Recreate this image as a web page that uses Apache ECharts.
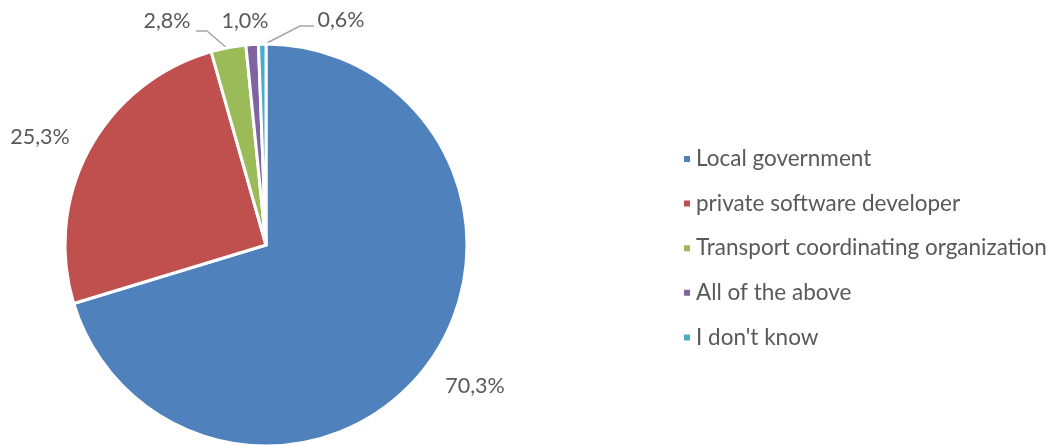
<!DOCTYPE html>
<html>
<head>
<meta charset="utf-8">
<script src="https://cdn.jsdelivr.net/npm/echarts@6/dist/echarts.min.js"></script>
<style>
  html, body { margin: 0; padding: 0; background: #ffffff; }
  #chart { width: 1056px; height: 445px; }
</style>
</head>
<body>
<div id="chart"></div>
<script>
// Who should provide the app: share of answers (%)
const categories = [
  'Local government',
  'private software developer',
  'Transport coordinating organization',
  'All of the above',
  "I don't know"
];
const shares = [70.3, 25.3, 2.8, 1.0, 0.6];
const valueLabels = ['70,3%', '25,3%', '2,8%', '1,0%', '0,6%'];
const colors = ['#4F81BD', '#C0504D', '#9BBB59', '#8064A2', '#4BACC6'];

const FONT = 'Lato, "Open Sans", sans-serif';
const TEXT = '#595959';

// Where each slice's value label sits, with leader lines for the thin slices
const labelSpots = [
  { x: 475, y: 386 },
  { x: 40, y: 137 },
  { x: 167, y: 21, line: [[196, 31], [207, 31], [228, 49]] },
  { x: 245, y: 21 },
  { x: 341, y: 20, line: [[263, 45], [300, 26], [314, 26]] }
];

const chart = echarts.init(document.getElementById('chart'), null, { renderer: 'canvas' });

chart.setOption({
  animation: false,
  color: colors,
  legend: {
    orient: 'vertical',
    left: 677,
    top: 142.5,
    itemWidth: 8,
    itemHeight: 8,
    itemGap: 21.6,
    icon: 'rect',
    textStyle: { fontFamily: FONT, fontSize: 22.5, color: TEXT },
    data: categories
  },
  series: [{
    type: 'pie',
    center: [266, 245],
    radius: 201,
    startAngle: 90,
    clockwise: true,
    avoidLabelOverlap: false,
    itemStyle: { borderColor: '#ffffff', borderWidth: 3 },
    label: {
      show: true,
      position: 'outside',
      fontFamily: FONT,
      fontSize: 21.5,
      color: TEXT,
      formatter: p => valueLabels[p.dataIndex]
    },
    labelLine: { show: true, lineStyle: { color: '#a6a6a6', width: 1.5 } },
    labelLayout: p => {
      const s = labelSpots[p.dataIndex];
      const out = { x: s.x, y: s.y, align: 'center', verticalAlign: 'middle' };
      out.labelLinePoints = s.line || [[s.x, s.y], [s.x, s.y], [s.x, s.y]];
      return out;
    },
    emphasis: { disabled: true },
    data: categories.map((name, i) => ({
      name,
      value: shares[i],
      labelLine: { show: !!labelSpots[i].line }
    }))
  }]
});
</script>
</body>
</html>
